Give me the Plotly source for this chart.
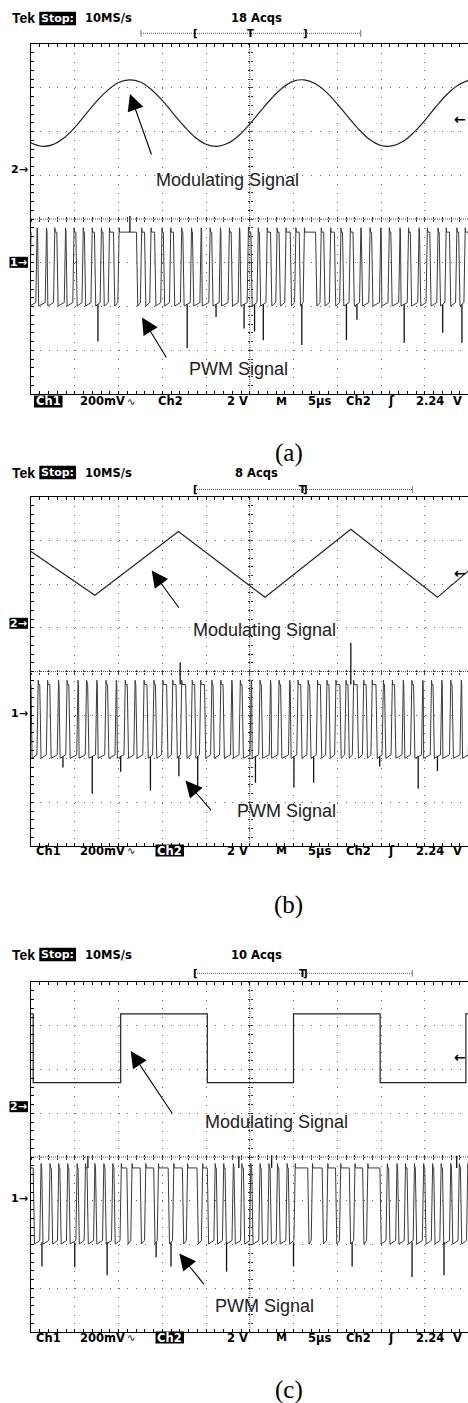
import plotly.graph_objects as go

W, H = 468, 1403
LEFT = 31.0
DIV = 43.75
XMAX = (W - LEFT) / DIV

# ---------------- data (x: screen divisions, y: screen divisions from centre) ----------------
t_mod = [0.0, 0.25, 0.5, 0.75, 1.0, 1.25, 1.5, 1.75, 2.0, 2.25, 2.5, 2.75, 3.0, 3.25, 3.5, 3.75,
         4.0, 4.25, 4.5, 4.75, 5.0, 5.25, 5.5, 5.75, 6.0, 6.25, 6.5, 6.75, 7.0, 7.25, 7.5, 7.75,
         8.0, 8.25, 8.5, 8.75, 9.0, 9.25, 9.5, 9.75, 10.0]
mod_sine = [1.74, 1.66, 1.70, 1.85, 2.09, 2.39, 2.69, 2.94, 3.12, 3.18, 3.13, 2.96, 2.71, 2.41,
            2.12, 1.87, 1.71, 1.66, 1.73, 1.91, 2.17, 2.47, 2.76, 3.00, 3.15, 3.18, 3.09, 2.90,
            2.63, 2.33, 2.04, 1.81, 1.68, 1.67, 1.77, 1.98, 2.25, 2.56, 2.84, 3.05, 3.17]

tri_x = [0.0, 1.46, 3.37, 5.35, 7.31, 9.29, 9.99]
tri_y = [2.75, 1.75, 3.21, 1.70, 3.26, 1.70, 2.30]

sq_x = [0.0, 0.05, 2.05, 4.03, 6.00, 7.98, 9.94, 9.99]
sq_y = [3.27, 1.70, 3.27, 1.70, 3.27, 1.70, 3.27, 3.27]

pwm_high = [-0.30, -0.30, -0.25]
pwm_low = [-1.95, -1.95, -1.95]

pwm_a_c = [0.04, 0.25, 0.45, 0.69, 0.89, 1.11, 1.31, 1.53, 1.72, 1.95, 2.47, 2.67, 2.91, 3.11,
           3.35, 3.57, 3.79, 3.99, 4.23, 4.43, 4.67, 4.87, 5.11, 5.31, 5.55, 5.75, 5.99, 6.19,
           6.57, 6.77, 7.01, 7.21, 7.45, 7.65, 7.89, 8.09, 8.33, 8.53, 8.77, 8.97, 9.21, 9.41,
           9.65, 9.85]
pwm_a_w = [.14, .15, .13, .14, .13, .11, .12, .10, .09, .07, .06, .09, .11, .11, .13, .14, .14,
           .15, .14, .15, .13, .14, .11, .12, .09, .10, .07, .06, .07, .10, .09, .12, .12, .14,
           .15, .14, .15, .14, .14, .12, .13, .10, .11, .09]
pwm_a_spk_x = [1.53, 3.57, 4.23, 4.87, 5.11, 5.31, 6.19, 7.21, 7.45, 8.53, 9.41, 9.85]
pwm_a_spk_y = [-2.80, -2.95, -2.24, -2.50, -2.57, -2.77, -2.88, -2.77, -2.30, -2.83, -2.60, -2.83]
pwm_a_up_x = [2.26]
pwm_a_up_y = [0.07]

pwm_b_c = [0.08, 0.29, 0.53, 0.73, 0.97, 1.17, 1.40, 1.61, 1.85, 2.05, 2.29, 2.49, 2.73, 2.93,
           3.17, 3.38, 3.61, 3.81, 4.05, 4.25, 4.49, 4.69, 4.93, 5.13, 5.37, 5.57, 5.81, 6.01,
           6.25, 6.46, 6.69, 6.89, 7.13, 7.31, 7.53, 7.73, 7.97, 8.17, 8.41, 8.61, 8.85, 9.05,
           9.29, 9.49, 9.73, 9.93]
pwm_b_w = [.11, .12, .14, .13, .15, .14, .15, .15, .14, .15, .12, .13, .10, .11, .08, .07, .09,
           .08, .11, .12, .14, .13, .15, .15, .15, .14, .15, .13, .11, .12, .09, .10, .08, .07,
           .09, .08, .11, .12, .14, .13, .15, .15, .14, .15, .15, .13]
pwm_b_spk_x = [0.73, 1.40, 2.05, 2.73, 3.38, 3.81, 5.13, 6.01, 6.46, 7.97, 8.85, 9.29]
pwm_b_spk_y = [-2.20, -2.80, -2.30, -2.73, -2.40, -2.64, -2.55, -2.66, -2.55, -2.18, -2.68, -2.28]
pwm_b_up_x = [3.41, 7.31]
pwm_b_up_y = [0.21, 0.66]

pwm_c_c = [0.14, 0.34, 0.55, 0.75, 0.96, 1.16, 1.37, 1.57, 1.78, 1.98, 2.25, 2.56, 2.86, 3.20,
           3.52, 3.86, 4.12, 4.32, 4.53, 4.73, 4.94, 5.14, 5.35, 5.55, 5.76, 5.96, 6.38, 6.72,
           7.02, 7.34, 7.64, 8.06, 8.27, 8.47, 8.68, 8.88, 9.09, 9.29, 9.50, 9.70, 9.90]
pwm_c_w = [.12, .13, .11, .12, .13, .11, .12, .13, .12, .11, .06, .07, .05, .07, .06, .07, .12,
           .11, .13, .12, .11, .13, .12, .11, .13, .10, .05, .07, .06, .07, .06, .11, .13, .12,
           .11, .13, .12, .11, .13, .12, .11]
pwm_c_spk_x = [0.25, 1.00, 1.74, 2.86, 3.20, 4.47, 6.00, 7.34, 8.71, 9.44]
pwm_c_spk_y = [-2.50, -2.52, -2.70, -2.29, -2.50, -2.62, -2.50, -2.50, -2.74, -2.70]
pwm_c_up_x = [1.30, 4.75, 5.50, 9.73]
pwm_c_up_y = [0.03, 0.02, 0.04, 0.03]

acqs_labels = ["18 Acqs", "8 Acqs", "10 Acqs"]
captions = ["(a)", "(b)", "(c)"]

# ---------------- helpers ----------------
annotations, shapes = [], []


def P(x, y):
    return x / W, 1 - y / H


def text(x, y, s, size=11.5, family="DejaVu Sans", color="black", xanchor="center", bold=False):
    px, py = P(x, y)
    annotations.append(dict(x=px, y=py, xref="paper", yref="paper",
                            text=("<b>%s</b>" % s) if bold else s, showarrow=False,
                            xanchor=xanchor, yanchor="middle", borderpad=0,
                            font=dict(family=family, size=size, color=color)))


def box(x0, y0, x1, y1):
    a0, b0 = P(x0, y1)
    a1, b1 = P(x1, y0)
    shapes.append(dict(type="rect", xref="paper", yref="paper", x0=a0, y0=b0, x1=a1, y1=b1,
                       fillcolor="black", line=dict(width=0), layer="above"))


def pline(x0, y0, x1, y1, color="#555", width=1, dash="solid"):
    a0, b0 = P(x0, y0)
    a1, b1 = P(x1, y1)
    shapes.append(dict(type="line", xref="paper", yref="paper", x0=a0, y0=b0, x1=a1, y1=b1,
                       line=dict(color=color, width=width, dash=dash)))


def arrow(tip, tail):
    px, py = P(*tip)
    annotations.append(dict(x=px, y=py, xref="paper", yref="paper", text="",
                            ax=tail[0] - tip[0], ay=tail[1] - tip[1], axref="pixel", ayref="pixel",
                            showarrow=True, arrowhead=2, arrowsize=3.0, arrowwidth=1.1,
                            arrowcolor="black", standoff=0, startstandoff=0))


def pwm_path(centers, widths, hi, lo):
    s = 0.03
    xs, ys = [0.0], [hi]
    for c, w in zip(centers, widths):
        x0 = max(c - w / 2 - s, xs[-1])
        xs += [x0, c - w / 2, c + w / 2, c + w / 2 + s, c + w / 2 + s + 0.01]
        ys += [hi, lo - 0.04, lo + 0.04, hi + 0.10, hi]
    xs.append(XMAX)
    ys.append(hi)
    return xs, ys


def spikes(xs, ys, base):
    ox, oy = [], []
    for x, y in zip(xs, ys):
        ox += [x, x, None]
        oy += [base, y, None]
    return ox, oy


def xid(n): return "x" if n == 1 else "x%d" % n
def yid(n): return "y" if n == 1 else "y%d" % n
def xkey(n): return "xaxis" if n == 1 else "xaxis%d" % n
def ykey(n): return "yaxis" if n == 1 else "yaxis%d" % n


PANELS = [
    dict(top=44, bottom=394, hy=18.5, bary=33.3, boty=401.5, mod=(t_mod, mod_sine), shape="spline",
         pwm=(pwm_a_c, pwm_a_w, pwm_a_spk_x, pwm_a_spk_y, pwm_a_up_x, pwm_a_up_y),
         sel=1, m2=169.3, m1=262.3, trig=119, cap=452.5,
         mtxt=(227.5, 180), mtip=(130, 94), mtail=(152, 156),
         ptxt=(238, 369), ptip=(142, 317.5), ptail=(167.3, 359)),
    dict(top=497, bottom=846, hy=472.5, bary=489.5, boty=850.5, mod=(tri_x, tri_y), shape="linear",
         pwm=(pwm_b_c, pwm_b_w, pwm_b_spk_x, pwm_b_spk_y, pwm_b_up_x, pwm_b_up_y),
         sel=2, m2=623.3, m1=713.3, trig=573.3, cap=904.5,
         mtxt=(264.5, 630), mtip=(151.7, 570.5), mtail=(180, 609.3),
         ptxt=(286, 811), ptip=(185.5, 780.5), ptail=(212.3, 811.7)),
    dict(top=982, bottom=1332, hy=954.5, bary=973.3, boty=1337.5, mod=(sq_x, sq_y), shape="hv",
         pwm=(pwm_c_c, pwm_c_w, pwm_c_spk_x, pwm_c_spk_y, pwm_c_up_x, pwm_c_up_y),
         sel=2, m2=1106.7, m1=1198.3, trig=1056.7, cap=1390,
         mtxt=(276, 1122), mtip=(130.7, 1051), mtail=(173.3, 1115),
         ptxt=(264.7, 1306), ptip=(179.3, 1253.5), ptail=(205, 1285.7)),
]

fig = go.Figure()
layout = {}
GRID = "#666"

for i, Pn in enumerate(PANELS):
    n, cin, cout = 3 * i + 1, 3 * i + 2, 3 * i + 3
    top, bot = Pn["top"], Pn["bottom"]
    yd = [1 - bot / H, 1 - top / H]
    xd = [LEFT / W, 1.0]
    cy = 1 - ((top + bot) / 2) / H
    cx = (LEFT + 5 * DIV) / W

    layout[xkey(n)] = dict(domain=xd, range=[0, XMAX], anchor=yid(n), tickmode="linear", tick0=0,
                           dtick=1, ticks="inside", ticklen=3, tickcolor="black", tickwidth=1,
                           showticklabels=False, showline=True, linecolor="black", linewidth=1,
                           mirror="ticks", showgrid=True, gridcolor=GRID, gridwidth=1,
                           griddash="1px,7.75px", zeroline=False, fixedrange=True,
                           minor=dict(tickmode="linear", tick0=0, dtick=0.2, ticks="inside",
                                      ticklen=3, tickcolor="black", showgrid=False))
    layout[ykey(n)] = dict(domain=yd, range=[-4, 4], anchor=xid(n), tickmode="linear", tick0=0,
                           dtick=1, ticks="inside", ticklen=3, tickcolor="black", tickwidth=1,
                           showticklabels=False, showline=True, linecolor="black", linewidth=1,
                           mirror=False, showgrid=True, gridcolor=GRID, gridwidth=1,
                           griddash="1px,7.75px", zeroline=False, fixedrange=True,
                           minor=dict(tickmode="linear", tick0=0, dtick=0.2, ticks="inside",
                                      ticklen=3, tickcolor="black", showgrid=False))
    for k, side in ((cin, "inside"), (cout, "outside")):
        layout[xkey(k)] = dict(overlaying=xid(n), anchor="free", position=cy, range=[0, XMAX],
                               tickmode="linear", tick0=0, dtick=0.2, ticks=side, ticklen=2,
                               tickcolor="#333", showticklabels=False, showgrid=False,
                               showline=False, zeroline=False, fixedrange=True)
        layout[ykey(k)] = dict(overlaying=yid(n), anchor="free", position=cx, range=[-4, 4],
                               side="left", tickmode="linear", tick0=0, dtick=0.2, ticks=side,
                               ticklen=2, tickcolor="#333", showticklabels=False,
                               showgrid=False, showline=False, zeroline=False, fixedrange=True)
        fig.add_trace(go.Scatter(x=[None], y=[None], xaxis=xid(k), yaxis=yid(n),
                                 showlegend=False, hoverinfo="skip"))
        fig.add_trace(go.Scatter(x=[None], y=[None], xaxis=xid(n), yaxis=yid(k),
                                 showlegend=False, hoverinfo="skip"))

    # centre cross (dense dotted)
    shapes.append(dict(type="line", xref=xid(n), yref=yid(n), x0=5, x1=5, y0=-4, y1=4,
                       layer="below", line=dict(color="#555", width=1, dash="1px,1px")))
    shapes.append(dict(type="line", xref=xid(n), yref=yid(n), x0=0, x1=XMAX, y0=0, y1=0,
                       layer="below", line=dict(color="#555", width=1, dash="1px,1px")))

    # traces
    mx, my = Pn["mod"]
    fig.add_trace(go.Scatter(x=mx, y=my, mode="lines", xaxis=xid(n), yaxis=yid(n),
                             line=dict(color="#222", width=1.2, shape=Pn["shape"]),
                             showlegend=False, hoverinfo="skip"))
    pc, pw, sx, sy, ux, uy = Pn["pwm"]
    hi, lo = pwm_high[i], pwm_low[i]
    px_, py_ = pwm_path(pc, pw, hi, lo)
    fig.add_trace(go.Scatter(x=px_, y=py_, mode="lines", xaxis=xid(n), yaxis=yid(n),
                             line=dict(color="#3a3a3a", width=1), showlegend=False,
                             hoverinfo="skip"))
    spx, spy = spikes(sx, sy, lo)
    fig.add_trace(go.Scatter(x=spx, y=spy, mode="lines", xaxis=xid(n), yaxis=yid(n),
                             line=dict(color="#111", width=1.3), showlegend=False,
                             hoverinfo="skip"))
    upx, upy = spikes(ux, uy, hi)
    fig.add_trace(go.Scatter(x=upx, y=upy, mode="lines", xaxis=xid(n), yaxis=yid(n),
                             line=dict(color="#111", width=1.3), showlegend=False,
                             hoverinfo="skip"))

    # header
    hy = Pn["hy"]
    text(11, hy, "Tek", size=14, family="Liberation Sans", xanchor="left", bold=True)
    box(39.3, hy - 6.7, 76, hy + 6.7)
    text(57.7, hy, "Stop:", size=11, color="white", bold=True)
    text(84, hy, "10MS/s", size=11.5, xanchor="left", bold=True)
    text(256.5, hy, acqs_labels[i], size=11.5, bold=True)

    by = Pn["bary"]
    if i == 0:
        pline(141, by, 360.7, by, dash="1px,1px")
        pline(141, by - 3.5, 141, by + 3.5, color="#777")
        pline(360.7, by - 3.5, 360.7, by + 3.5, color="#777")
        text(195, by, "[", size=10, bold=True)
        text(250, by, "T", size=10, bold=True)
        text(305, by, "]", size=10, bold=True)
    else:
        pline(195, by, 412.3, by, dash="1px,1px")
        pline(412.3, by - 3.5, 412.3, by + 3.5, color="#777")
        text(195, by, "[", size=10, bold=True)
        text(302, by, "T", size=10, bold=True)
        text(305.5, by, "]", size=10, bold=True)

    # bottom status bar
    ty = Pn["boty"]
    if Pn["sel"] == 1:
        box(34, ty - 6, 62.5, ty + 6)
        text(48.3, ty, "Ch1", color="white", bold=True)
        text(170, ty, "Ch2", bold=True)
    else:
        text(48.3, ty, "Ch1", bold=True)
        box(155.5, ty - 6, 184, ty + 6)
        text(169.7, ty, "Ch2", color="white", bold=True)
    text(102, ty, "200mV", bold=True)
    text(131, ty, "∿", size=10)
    text(237, ty, "2 V", bold=True)
    text(281, ty, "M", size=11, bold=True)
    text(319, ty, "5µs", bold=True)
    text(358.5, ty, "Ch2", bold=True)
    text(391, ty, "ʃ", size=12, bold=True)
    text(430, ty, "2.24", bold=True)
    text(457, ty, "V", bold=True)

    # channel markers
    if Pn["sel"] == 1:
        text(19.5, Pn["m2"], "2→", size=11, bold=True)
        box(9.5, Pn["m1"] - 5.5, 28, Pn["m1"] + 5.5)
        text(18.7, Pn["m1"], "1→", size=11, color="white", bold=True)
    else:
        box(9.5, Pn["m2"] - 5.5, 28, Pn["m2"] + 5.5)
        text(18.7, Pn["m2"], "2→", size=11, color="white", bold=True)
        text(19, Pn["m1"], "1→", size=11, bold=True)
    text(467, Pn["trig"], "←", size=14, xanchor="right", bold=True)

    # signal labels
    text(*Pn["mtxt"], "Modulating Signal", size=18, family="Liberation Sans", color="#222")
    arrow(Pn["mtip"], Pn["mtail"])
    text(*Pn["ptxt"], "PWM Signal", size=18, family="Liberation Sans", color="#222")
    arrow(Pn["ptip"], Pn["ptail"])

    text(288.5, Pn["cap"], captions[i], size=25, family="Liberation Serif")

layout.update(width=W, height=H, margin=dict(l=0, r=0, t=0, b=0), paper_bgcolor="white",
              plot_bgcolor="white", showlegend=False, annotations=annotations, shapes=shapes)
fig.update_layout(**layout)
fig.write_html("out.html", config={"displayModeBar": False, "staticPlot": True},
               post_script="document.body.style.margin='0px';document.body.style.padding='0px';"
                           "document.body.style.overflow='hidden';")
